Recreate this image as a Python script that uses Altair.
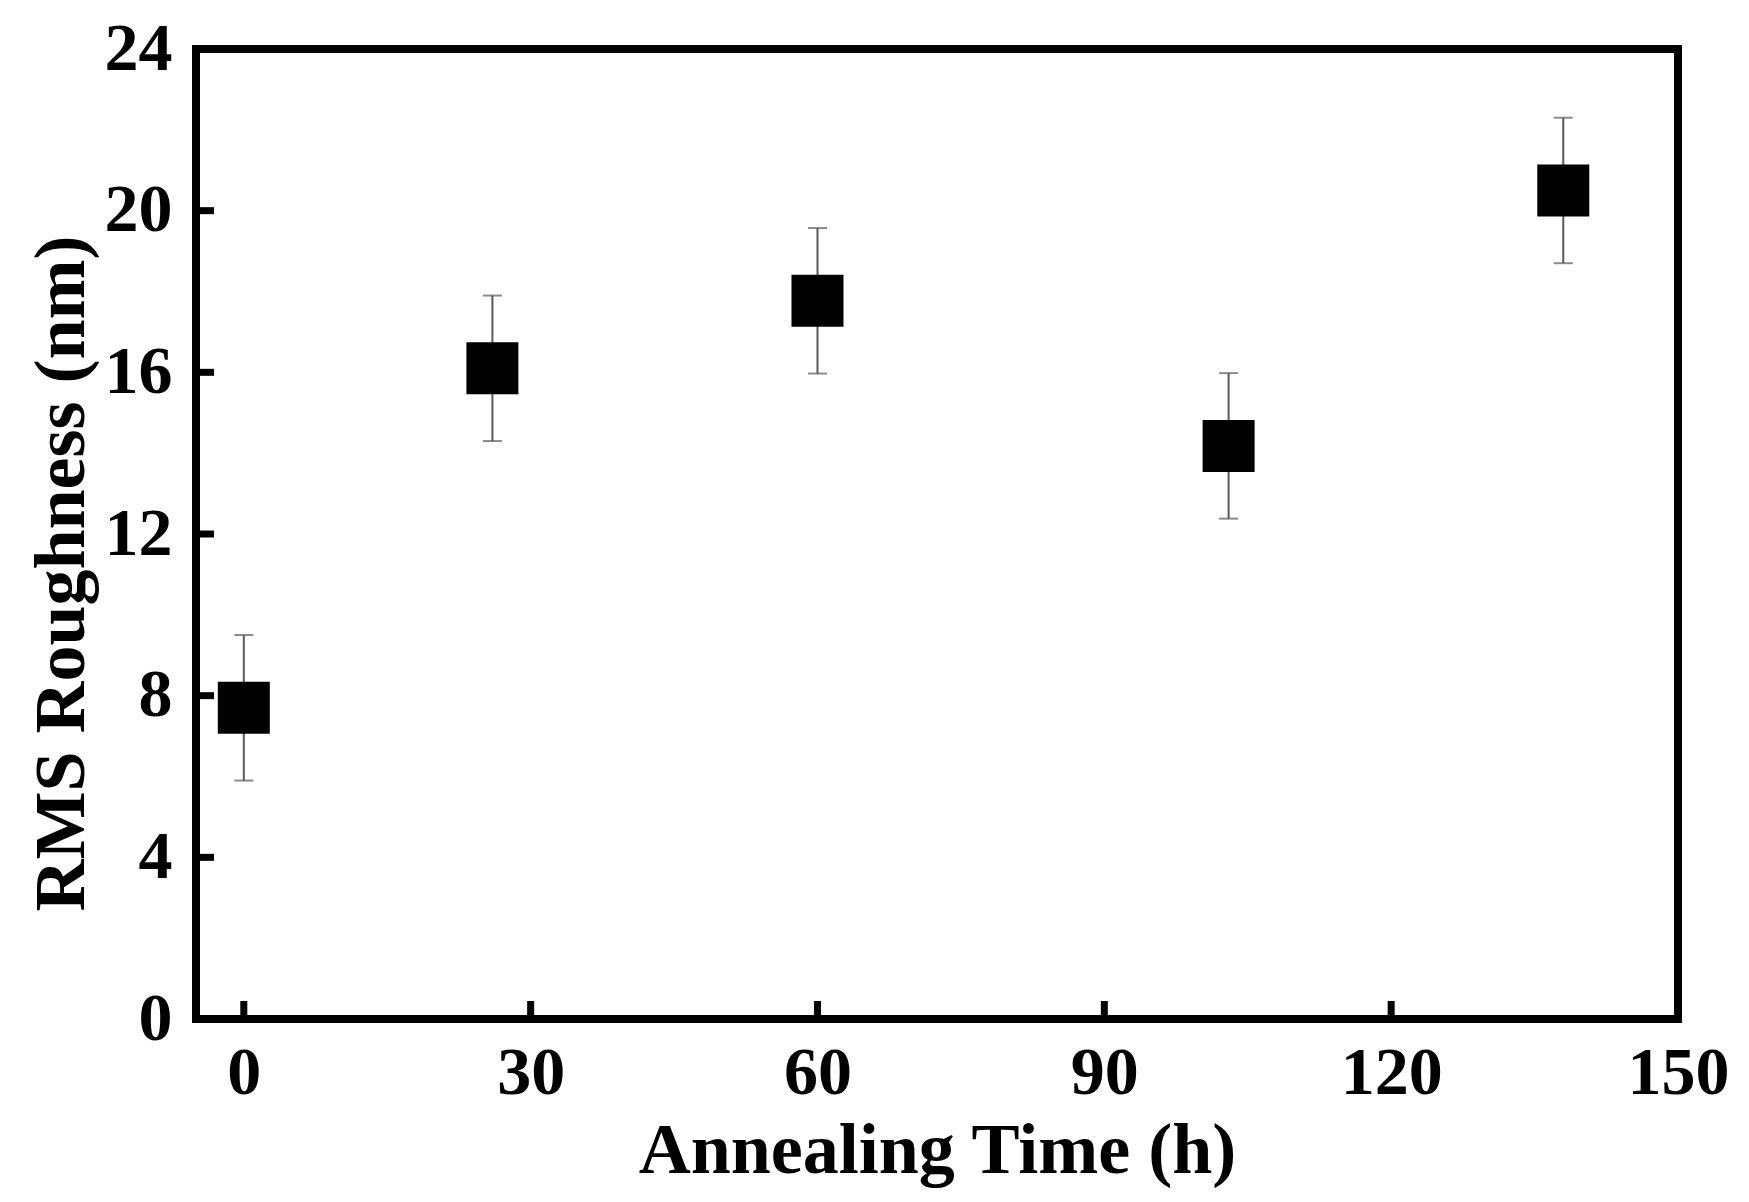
import altair as alt
import pandas as pd

# RMS roughness vs. annealing time, mean ± error
time_h = [0, 26, 60, 103, 138]
rms_nm = [7.7, 16.1, 17.77, 14.18, 20.5]
err_nm = [1.8, 1.8, 1.8, 1.8, 1.8]

x_ticks = [0, 30, 60, 90, 120, 150]
y_ticks = [0, 4, 8, 12, 16, 20, 24]

W, H = 1482, 970
FONT = "Liberation Serif"

df = pd.DataFrame({"time": time_h, "rms": rms_nm, "err": err_nm})
df["lo"] = df["rms"] - df["err"]
df["hi"] = df["rms"] + df["err"]

xscale = alt.Scale(domain=[-5, 150], nice=False, zero=False)
yscale = alt.Scale(domain=[0, 24], nice=False, zero=False)

x_axis = alt.Axis(
    title="Annealing Time (h)", values=x_ticks, format="d",
    labelFont=FONT, labelFontSize=68, labelFontWeight="bold", labelColor="black",
    labelBaseline="alphabetic", labelPadding=74, labelFlush=False, labelOverlap=False,
    titleFont=FONT, titleFontSize=72, titleFontWeight="bold", titleColor="black",
    titleBaseline="alphabetic", titleX=W / 2, titleY=153,
    ticks=False, tickSize=0, domain=False, grid=False,
)
y_axis = alt.Axis(
    title="RMS Roughness (nm)", values=y_ticks, format="d",
    labelFont=FONT, labelFontSize=68, labelFontWeight="bold", labelColor="black",
    labelPadding=24, labelFlush=False, labelOverlap=False,
    titleFont=FONT, titleFontSize=72, titleFontWeight="bold", titleColor="black",
    titleBaseline="alphabetic", titleAngle=270, titleX=-113, titleY=524,
    ticks=False, tickSize=0, domain=False, grid=False,
)

base = alt.Chart(df)

# error bar stems and caps
stems = base.mark_rule(color="#5a5a5a", strokeWidth=2).encode(
    x=alt.X("time:Q", scale=xscale, axis=x_axis),
    y=alt.Y("lo:Q", scale=yscale, axis=y_axis),
    y2="hi:Q",
)
caps_hi = base.mark_tick(color="#5a5a5a", orient="horizontal", size=19, thickness=2).encode(
    x=alt.X("time:Q", scale=xscale), y=alt.Y("hi:Q", scale=yscale)
)
caps_lo = base.mark_tick(color="#5a5a5a", orient="horizontal", size=19, thickness=2).encode(
    x=alt.X("time:Q", scale=xscale), y=alt.Y("lo:Q", scale=yscale)
)

# filled square markers
points = base.mark_point(shape="square", filled=True, color="black", opacity=1, size=2704).encode(
    x=alt.X("time:Q", scale=xscale), y=alt.Y("rms:Q", scale=yscale)
)

# inward-pointing tick marks on the bottom and left axes
xt = alt.Chart(pd.DataFrame({"t": x_ticks[:-1]})).mark_rule(color="black", strokeWidth=7).encode(
    x=alt.X("t:Q", scale=xscale), y=alt.value(H), y2=alt.value(H - 18)
)
yt = alt.Chart(pd.DataFrame({"t": y_ticks[1:-1]})).mark_rule(color="black", strokeWidth=7).encode(
    y=alt.Y("t:Q", scale=yscale), x=alt.value(0), x2=alt.value(18)
)

chart = (
    alt.layer(stems, caps_hi, caps_lo, points, xt, yt)
    .properties(
        width=W, height=H,
        autosize=alt.AutoSizeParams(type="none"),
        padding={"left": 196, "top": 49, "right": 71, "bottom": 183},
        background="white",
    )
    .configure_view(stroke="black", strokeWidth=8)
)

chart.save("out.html", embed_options={"renderer": "svg", "actions": False})
